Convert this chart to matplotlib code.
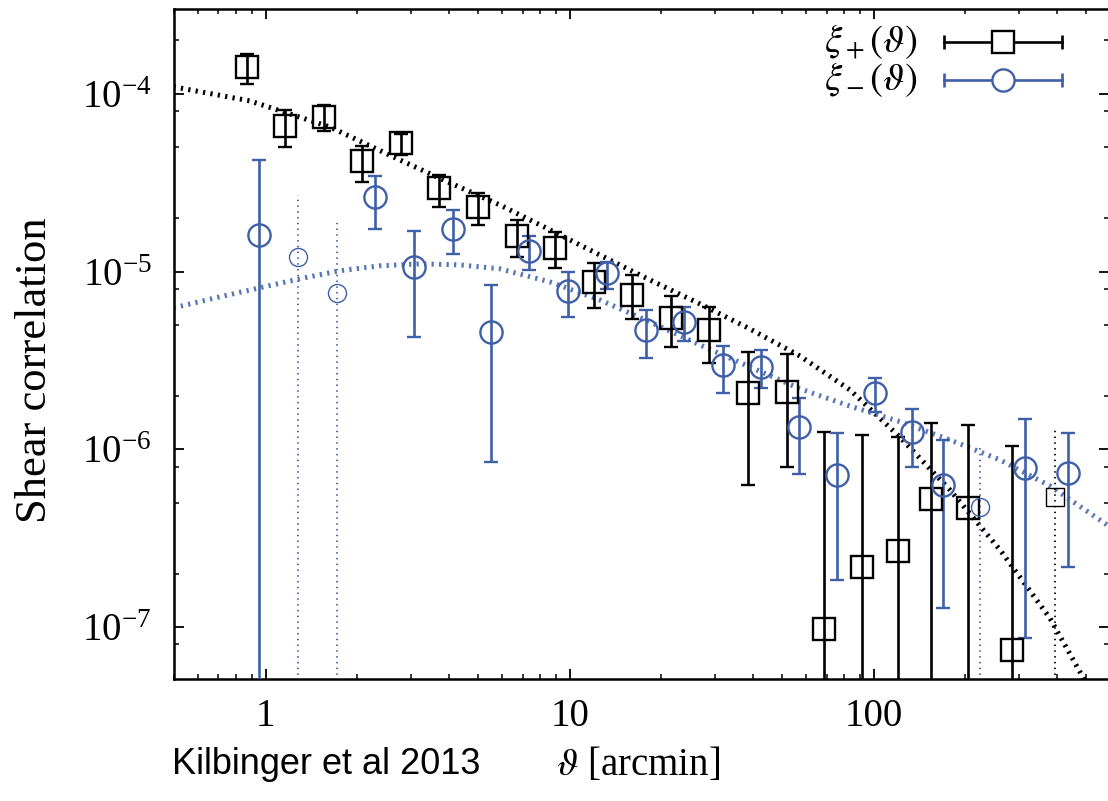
import numpy as np
import matplotlib

matplotlib.use("Agg")
import matplotlib.pyplot as plt
from matplotlib.ticker import FixedLocator, LogLocator, NullFormatter, LogFormatterMathtext

plt.rcParams["mathtext.fontset"] = "stix"
plt.rcParams["font.family"] = ["Liberation Serif", "DejaVu Serif"]

INK = "black"
BLUE = "#3f5fa8"
BLUE_MODEL = "#5575b6"

# xi_+ measurements: theta [arcmin], value, lower / upper end of the error bar
# (a lower end of 1e-9 means the bar runs off the bottom of the plot)
xip_theta = [0.866, 1.155, 1.552, 2.069, 2.781, 3.708, 4.983, 6.695, 8.926, 11.99, 15.99,
             21.49, 28.65, 38.50, 51.74, 68.47, 91.3, 119.9, 154.0, 203.8, 284.4, 393.9]
xip = [1.41e-4, 6.60e-5, 7.42e-5, 4.20e-5, 5.30e-5, 2.96e-5, 2.31e-5, 1.59e-5, 1.36e-5, 8.75e-6,
       7.39e-6, 5.49e-6, 4.70e-6, 2.08e-6, 2.10e-6, 9.75e-8, 2.18e-7, 2.68e-7, 5.26e-7, 4.68e-7,
       7.43e-8, 5.40e-7]
xip_lo = [1.14e-4, 5.03e-5, 6.19e-5, 3.20e-5, 4.54e-5, 2.31e-5, 1.83e-5, 1.21e-5, 1.05e-5, 6.25e-6,
          5.42e-6, 3.77e-6, 3.06e-6, 6.3e-7, 7.96e-7, 1e-9, 1e-9, 1e-9, 1e-9, 1e-9, 1e-9, 1e-9]
xip_hi = [1.68e-4, 8.13e-5, 8.67e-5, 5.10e-5, 5.96e-5, 3.50e-5, 2.77e-5, 1.95e-5, 1.67e-5, 1.12e-5,
          9.58e-6, 7.30e-6, 6.32e-6, 3.53e-6, 3.44e-6, 1.25e-6, 1.21e-6, 1.17e-6, 1.41e-6, 1.37e-6,
          1.05e-6, 1.34e-6]
xip_neg = [False] * 21 + [True]

# xi_- measurements
xim_theta = [0.948, 1.274, 1.713, 2.284, 3.068, 4.123, 5.497, 7.331, 9.85, 13.23, 17.78,
             23.71, 31.87, 42.49, 56.66, 75.56, 100.8, 133.4, 168.7, 223.2, 313.8, 434.7]
xim = [1.61e-5, 1.21e-5, 7.59e-6, 2.63e-5, 1.06e-5, 1.74e-5, 4.58e-6, 1.31e-5, 7.79e-6, 9.84e-6,
       4.70e-6, 5.21e-6, 2.99e-6, 2.91e-6, 1.34e-6, 7.18e-7, 2.08e-6, 1.25e-6, 6.31e-7, 4.74e-7,
       7.86e-7, 7.37e-7]
xim_lo = [1e-9, 1e-9, 1e-9, 1.74e-5, 4.30e-6, 1.26e-5, 8.5e-7, 1.02e-5, 5.56e-6, 8.0e-6, 3.27e-6,
          4.07e-6, 2.07e-6, 2.22e-6, 7.28e-7, 1.84e-7, 1.62e-6, 7.96e-7, 1.28e-7, 1e-9, 8.69e-8,
          2.18e-7]
xim_hi = [4.26e-5, 2.70e-5, 1.88e-5, 3.46e-5, 1.69e-5, 2.22e-5, 8.41e-6, 1.59e-5, 9.96e-6, 1.13e-5,
          6.09e-6, 6.33e-6, 3.82e-6, 3.63e-6, 1.95e-6, 1.24e-6, 2.52e-6, 1.69e-6, 1.13e-6, 1.05e-6,
          1.48e-6, 1.24e-6]
xim_neg = [False, True, True] + [False] * 16 + [True, False, False]

# model predictions
mp_theta = [0.498, 0.886, 1.623, 2.76, 4.03, 5.89, 8.59, 12.55, 18.33, 26.77, 39.09, 57.1,
            83.4, 121.8, 177.8, 259.7, 379.3, 476, 553.8]
mp_val = [1.095e-4, 9.13e-5, 6.52e-5, 4.25e-5, 3.16e-5, 2.37e-5, 1.72e-5, 1.24e-5, 8.98e-6,
          6.58e-6, 4.76e-6, 3.35e-6, 2.16e-6, 1.17e-6, 5.91e-7, 2.72e-7, 1.12e-7, 5.59e-8, 3.42e-8]
mm_theta = [0.498, 0.706, 0.956, 1.294, 1.751, 2.371, 3.21, 4.35, 5.89, 8.59, 12.55, 18.33,
            26.77, 39.09, 57.1, 83.4, 121.8, 177.8, 259.7, 379.3, 597.5]
mm_val = [6.25e-6, 7.2e-6, 8.1e-6, 9.1e-6, 1.01e-5, 1.077e-5, 1.105e-5, 1.09e-5, 1.036e-5,
          8.75e-6, 6.93e-6, 5.21e-6, 3.87e-6, 2.91e-6, 2.19e-6, 1.75e-6, 1.43e-6, 1.13e-6,
          8.72e-7, 6.22e-7, 3.66e-7]


def draw_series(ax, theta, val, lo, hi, neg, color, marker):
    theta, val, lo, hi, neg = map(np.asarray, (theta, val, lo, hi, neg))
    err = np.vstack([val - lo, hi - val])
    for dotted in (False, True):
        m = neg == dotted
        if not m.any():
            continue
        c = ax.errorbar(theta[m], val[m], yerr=err[:, m], fmt=marker, ms=16 if not dotted else 13,
                        mfc="none", mec=color, mew=1.0 if dotted else 1.7, ecolor=color,
                        elinewidth=1.3 if dotted else 1.9, capsize=0 if dotted else 5,
                        capthick=1.9, zorder=4)
        if dotted:
            c[2][0].set_linestyle((0, (0.8, 2.4)))


fig = plt.figure(figsize=(11.08, 8.01), dpi=100)
ax = fig.add_axes([174 / 1108, 122 / 801, 935 / 1108, 670 / 801])

ax.plot(mp_theta, mp_val, color=INK, lw=3.6, ls=(0, (0.45, 1.05)), zorder=2)
ax.plot(mm_theta, mm_val, color=BLUE_MODEL, lw=3.6, ls=(0, (0.45, 1.05)), zorder=2)

draw_series(ax, xip_theta, xip, xip_lo, xip_hi, xip_neg, INK, "s")
draw_series(ax, xim_theta, xim, xim_lo, xim_hi, xim_neg, BLUE, "o")

ax.set_xscale("log")
ax.set_yscale("log")
ax.set_xlim(0.5, 593)
ax.set_ylim(5.1e-8, 3.0e-4)

ax.xaxis.set_major_locator(FixedLocator([1, 10, 100]))
ax.set_xticklabels(["1", "10", "100"])
ax.xaxis.set_minor_locator(LogLocator(base=10, subs=np.arange(2, 10)))
ax.xaxis.set_minor_formatter(NullFormatter())
ax.yaxis.set_major_locator(LogLocator(base=10, numticks=10))
ax.yaxis.set_major_formatter(LogFormatterMathtext())
ax.yaxis.set_minor_locator(LogLocator(base=10, subs=(2, 5, 8)))
ax.yaxis.set_minor_formatter(NullFormatter())

ax.tick_params(which="both", direction="in", top=True, right=True, colors=INK)
ax.tick_params(which="major", length=7, width=1.3, labelsize=28)
ax.tick_params(which="minor", length=3.6, width=1.1)
ax.tick_params(axis="x", which="major", pad=14)
ax.tick_params(axis="y", which="major", pad=16)
for spine in ax.spines.values():
    spine.set_linewidth(1.8)

# legend drawn gnuplot-style: label, horizontal bar with caps, marker
for yy, lab, color, marker in [(0.951, r"$\xi_+(\vartheta)$", INK, "s"),
                               (0.894, r"$\xi_-(\vartheta)$", BLUE, "o")]:
    ax.text(0.795, yy, lab, transform=ax.transAxes, ha="right", va="center", fontsize=28)
    ax.plot([0.824, 0.950], [yy, yy], color=color, lw=1.9, transform=ax.transAxes, zorder=5)
    ax.plot([0.824, 0.950], [yy, yy], ls="none", marker="|", ms=10, mew=1.9, color=color,
            transform=ax.transAxes, zorder=5)
    ax.plot([0.887], [yy], ls="none", marker=marker, ms=16, mfc="white", mec=color, mew=1.7,
            transform=ax.transAxes, zorder=6)

fig.text(35 / 1108, 1 - 370 / 801, "Shear correlation", rotation=90, ha="center", va="center",
         fontsize=32)
fig.text(638 / 1108, 1 - 765 / 801, r"$\vartheta$ [arcmin]", ha="center", va="center", fontsize=28)
fig.text(172 / 1108, 1 - 765 / 801, "Kilbinger et al 2013", ha="left", va="center", fontsize=26,
         family=["Liberation Sans Narrow", "Liberation Sans", "DejaVu Sans"])

fig.savefig("out.png", dpi=100)
